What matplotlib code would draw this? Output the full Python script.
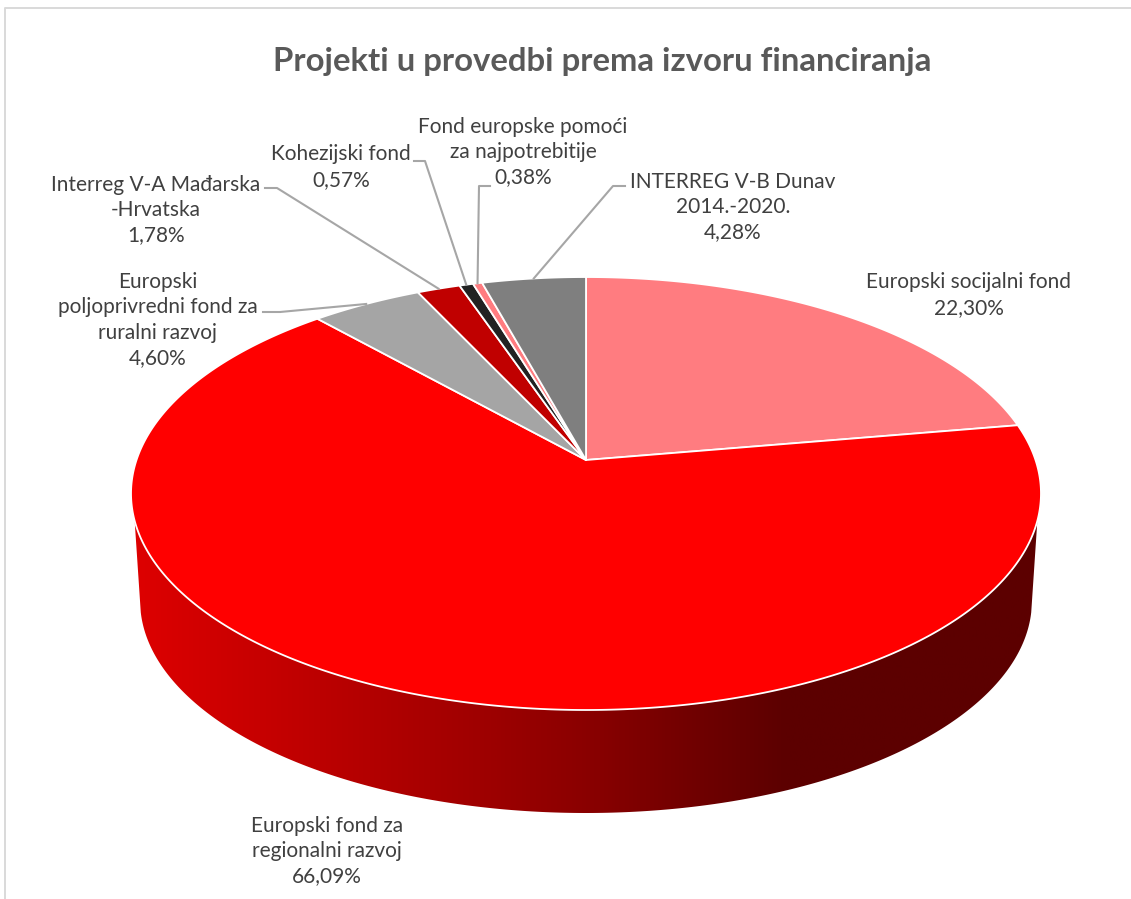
import numpy as np
import matplotlib
matplotlib.use('Agg')
import matplotlib.pyplot as plt
from matplotlib.colors import LinearSegmentedColormap
from matplotlib.patches import Polygon

plt.rcParams['font.family'] = ['Lato', 'DejaVu Sans']

title = 'Projekti u provedbi prema izvoru financiranja'
names = ['Europski socijalni fond',
         'Europski fond za\nregionalni razvoj',
         'Europski\npoljoprivredni fond za\nruralni razvoj',
         'Interreg V-A Mađarska\n-Hrvatska',
         'Kohezijski fond',
         'Fond europske pomoći\nza najpotrebitije',
         'INTERREG V-B Dunav\n2014.-2020.']
values = [22.30, 66.09, 4.60, 1.78, 0.57, 0.38, 4.28]
colors = ['#FF7C80', '#FF0000', '#A5A5A5', '#C00000', '#222222', '#FF7C80', '#7F7F7F']

# label centres in pixels, same order as names
label_pos = [(969, 295), (327, 851), (158, 320), (156, 210), (341, 167), (523, 152), (733, 207)]
# leader line: start and knee in pixels (None = no leader)
leaders = [None, None,
           ((263, 312), (280, 312)),
           ((265, 188), (277, 188)),
           ((414, 161), (425, 161)),
           ((490, 186), (479, 186)),
           ((625, 186), (613, 186))]

W, H = 1131, 899
CX, CY = 586, 460
A, B, K = 449.5, 211.3, 0.1548   # perspective disc
CY_LOW, S_LOW = 568, 0.98        # bottom rim of the extrusion


def rim(theta, cy=CY, s=1.0):
    # theta clockwise from the top, in radians
    u, v = np.sin(theta), np.cos(theta)
    d = 1 + K * v
    return CX + s * A * u / d, cy - s * B * v / d


fig = plt.figure(figsize=(W / 100, H / 100), dpi=100)
ax = fig.add_axes([0, 0, 1, 1])

# side wall with the horizontal shading
th_top = np.radians(np.linspace(254, 106, 300))
th_low = np.radians(np.linspace(102, 258, 300))
xt, yt = rim(th_top)
xl, yl = rim(th_low, CY_LOW, S_LOW)
wall = Polygon(np.r_[np.c_[xt, yt], np.c_[xl, yl]], closed=True, fc='none', ec='none')
ax.add_patch(wall)
shade = LinearSegmentedColormap.from_list('shade', [(0, '#DE0000'), (0.23, '#B80000'),
                                                    (0.40, '#9C0000'), (0.50, '#8A0000'),
                                                    (0.63, '#6E0000'), (0.72, '#5C0000'),
                                                    (1, '#5C0000')])
im = ax.imshow(np.linspace(0, 1, 512).reshape(1, -1), cmap=shade, aspect='auto',
               extent=(132, 1041, 830, 480), interpolation='bilinear')
im.set_clip_path(wall)

# top face
fractions = np.cumsum([0] + values) / sum(values) * 2 * np.pi
for i in range(len(values)):
    n = max(int(values[i] * 8), 6)
    th = np.linspace(fractions[i], fractions[i + 1], n)
    x, y = rim(th)
    pts = np.r_[[[CX, CY]], np.c_[x, y]]
    ax.add_patch(Polygon(pts, closed=True, fc=colors[i], ec='white', lw=1.3, joinstyle='round'))

# labels and leaders
for i in range(len(values)):
    label = names[i] + '\n' + f'{values[i]:.2f}'.replace('.', ',') + '%'
    ax.text(label_pos[i][0], label_pos[i][1], label, ha='center', va='center',
            fontsize=15, color='#404040', linespacing=1.33)
    if leaders[i] is not None:
        mid = (fractions[i] + fractions[i + 1]) / 2
        ex, ey = rim(mid)
        start, knee = leaders[i]
        ax.plot([start[0], knee[0], ex], [start[1], knee[1], ey], color='#A6A6A6', lw=1.5)

ax.text(602, 62, title, ha='center', va='center', fontsize=23.7, fontweight='bold', color='#595959')

# chart frame
ax.plot([4.5, 4.5, W], [H, 8, 8], color='#D9D9D9', lw=1.4)

ax.set_xlim(0, W)
ax.set_ylim(H, 0)
ax.axis('off')

fig.savefig('out.png', dpi=100)
